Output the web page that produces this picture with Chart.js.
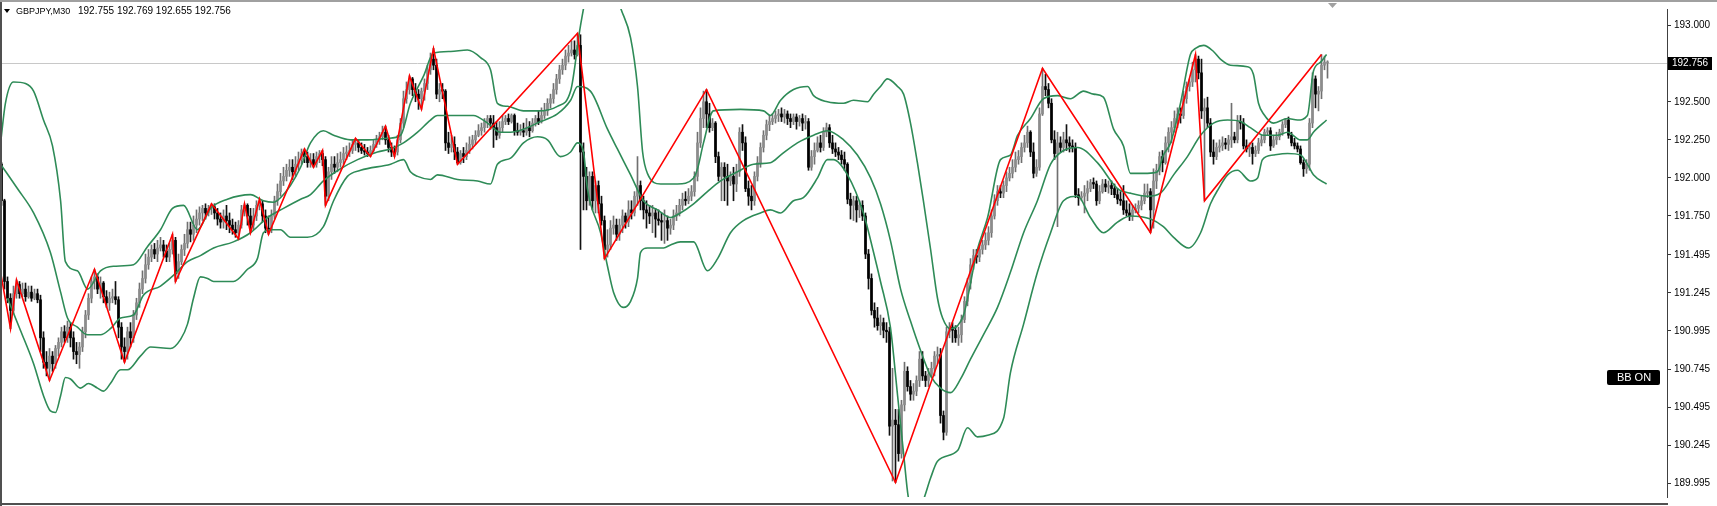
<!DOCTYPE html>
<html>
<head>
<meta charset="utf-8">
<title>GBPJPY,M30</title>
<script src="https://cdn.jsdelivr.net/npm/chart.js@4.4.1/dist/chart.umd.min.js"></script>
<style>
  html, body { margin: 0; padding: 0; background: #fff; overflow: hidden; }
  #wrap { position: relative; width: 1717px; height: 506px; }
</style>
</head>
<body>
<div id="wrap"><canvas id="chart" width="1717" height="506"></canvas></div>
<script>
// ========== DATA ==========
const symbol = 'GBPJPY,M30';
const lastBar = [192.755, 192.769, 192.655, 192.756];
const bidPrice = 192.756;
const bbLabel = 'BB ON';
const yTicks = [193.000, 192.500, 192.250, 192.000, 191.750, 191.495, 191.245, 190.995, 190.745, 190.495, 190.245, 189.995];

// candles, one entry per M30 bar (oldest first)
const opens = [
192.09,191.85,191.32,191.21,191.13,191.24,191.30,191.24,191.27,191.22,
191.25,191.21,191.24,191.20,190.95,190.79,190.75,190.83,190.78,190.88,
190.92,190.99,190.95,191.02,190.95,190.86,190.84,190.89,190.99,191.10,
191.21,191.32,191.35,191.27,191.31,191.22,191.18,191.21,191.22,191.20,
191.02,190.89,190.86,190.99,190.95,191.10,191.18,191.27,191.34,191.43,
191.48,191.53,191.50,191.54,191.56,191.52,191.48,191.53,191.59,191.37,
191.45,191.53,191.57,191.66,191.63,191.69,191.73,191.77,191.80,191.77,
191.80,191.81,191.77,191.73,191.71,191.75,191.72,191.69,191.66,191.64,
191.69,191.79,191.82,191.75,191.69,191.75,191.82,191.83,191.75,191.67,
191.66,191.75,191.85,191.91,191.98,192.01,192.05,192.07,192.04,192.09,
192.12,192.16,192.14,192.10,192.12,192.09,192.14,192.16,192.12,191.88,
192.04,192.09,192.07,192.10,192.12,192.16,192.17,192.18,192.22,192.23,
192.20,192.18,192.17,192.16,192.18,192.22,192.25,192.27,192.30,192.25,
192.20,192.17,192.17,192.25,192.36,192.52,192.58,192.65,192.58,192.55,
192.52,192.57,192.62,192.71,192.78,192.74,192.55,192.58,192.57,192.23,
192.20,192.22,192.17,192.10,192.16,192.14,192.18,192.22,192.25,192.28,
192.31,192.33,192.37,192.39,192.36,192.33,192.28,192.33,192.37,192.39,
192.37,192.41,192.31,192.30,192.31,192.30,192.33,192.31,192.36,192.39,
192.37,192.41,192.44,192.49,192.52,192.58,192.65,192.71,192.74,192.80,
192.82,192.84,192.81,192.87,192.17,192.01,191.85,192.01,191.85,191.95,
191.83,191.72,191.53,191.56,191.67,191.69,191.63,191.69,191.75,191.71,
191.79,191.77,191.88,191.95,191.85,191.79,191.77,191.75,191.77,191.73,
191.72,191.71,191.72,191.67,191.69,191.75,191.77,191.82,191.86,191.85,
191.88,191.91,192.01,192.23,192.39,192.50,192.42,192.33,192.36,192.14,
192.01,192.07,192.01,191.98,192.01,191.96,192.04,192.30,192.23,191.93,
191.88,191.85,192.01,192.10,192.20,192.28,192.35,192.37,192.39,192.41,
192.42,192.40,192.42,192.39,192.37,192.40,192.37,192.39,192.36,192.37,
192.07,192.14,192.18,192.23,192.20,192.30,192.33,192.23,192.19,192.17,
192.15,192.12,192.09,191.86,191.82,191.85,191.79,191.82,191.75,191.50,
191.34,191.13,191.08,191.03,191.05,191.00,190.99,190.37,190.41,190.38,
190.19,190.51,190.73,190.63,190.58,190.60,190.67,190.81,190.70,190.67,
190.71,190.75,190.83,190.84,190.44,190.33,190.99,191.02,191.00,190.95,
190.97,191.07,191.19,191.31,191.43,191.49,191.48,191.53,191.56,191.59,
191.64,191.75,191.85,191.91,191.90,191.95,192.00,192.03,192.07,192.12,
192.14,192.20,192.23,192.30,192.17,192.03,192.07,192.42,192.60,192.58,
192.49,192.25,192.16,192.23,192.20,192.25,192.23,192.21,192.20,191.89,
191.87,191.88,191.90,191.93,191.97,191.96,191.85,191.91,191.96,191.94,
191.95,191.93,191.89,191.86,191.85,191.79,191.77,191.75,191.79,191.80,
191.82,191.85,191.90,191.91,191.79,191.98,192.05,192.14,192.10,192.23,
192.30,192.33,192.39,192.42,192.41,192.52,192.60,192.63,192.71,192.78,
192.69,192.44,192.46,192.36,192.17,192.14,192.20,192.21,192.23,192.22,
192.25,192.27,192.25,192.37,192.36,192.21,192.19,192.20,192.16,192.18,
192.23,192.25,192.30,192.31,192.21,192.25,192.27,192.30,192.35,192.38,
192.28,192.23,192.21,192.19,192.10,192.06,192.09,192.36,192.65,192.55,
192.57,192.74,192.755
];
const highs = [
192.10,191.86,191.35,191.24,191.29,191.33,191.32,191.31,191.31,191.29,
191.29,191.27,191.27,191.23,190.99,190.86,190.88,190.86,190.90,190.95,
191.02,191.03,191.06,191.05,190.99,190.92,190.92,191.02,191.13,191.24,
191.35,191.40,191.37,191.35,191.32,191.26,191.25,191.27,191.32,191.22,
191.05,190.95,191.02,191.05,191.13,191.21,191.31,191.39,191.50,191.53,
191.56,191.57,191.59,191.61,191.59,191.56,191.57,191.63,191.61,191.50,
191.56,191.63,191.71,191.71,191.75,191.79,191.81,191.82,191.83,191.82,
191.83,191.83,191.80,191.77,191.79,191.82,191.77,191.73,191.71,191.72,
191.82,191.83,191.83,191.80,191.80,191.85,191.86,191.85,191.79,191.75,
191.79,191.88,191.96,192.03,192.07,192.09,192.12,192.12,192.14,192.17,
192.19,192.19,192.17,192.16,192.16,192.17,192.18,192.18,192.14,192.07,
192.14,192.14,192.16,192.17,192.20,192.21,192.23,192.25,192.26,192.25,
192.23,192.22,192.20,192.21,192.25,192.28,192.30,192.34,192.34,192.28,
192.23,192.21,192.28,192.39,192.57,192.63,192.67,192.66,192.62,192.58,
192.59,192.65,192.74,192.82,192.85,192.78,192.62,192.62,192.58,192.30,
192.28,192.27,192.20,192.18,192.20,192.23,192.27,192.28,192.31,192.35,
192.36,192.39,192.41,192.41,192.41,192.37,192.37,192.41,192.41,192.42,
192.42,192.42,192.36,192.35,192.36,192.39,192.37,192.39,192.41,192.44,
192.46,192.49,192.52,192.55,192.62,192.68,192.74,192.78,192.84,192.87,
192.90,192.90,192.95,192.94,192.23,192.07,192.04,192.04,191.98,191.98,
191.88,191.75,191.66,191.72,191.75,191.73,191.73,191.79,191.77,191.85,
191.85,191.91,192.14,191.98,191.88,191.85,191.82,191.82,191.80,191.79,
191.77,191.79,191.75,191.73,191.79,191.82,191.86,191.90,191.91,191.93,
191.95,192.04,192.30,192.46,192.57,192.58,192.49,192.39,192.37,192.17,
192.10,192.10,192.09,192.04,192.07,192.09,192.33,192.35,192.27,191.98,
191.95,192.04,192.14,192.23,192.31,192.38,192.41,192.42,192.44,192.45,
192.46,192.45,192.44,192.42,192.42,192.42,192.41,192.42,192.41,192.39,
192.18,192.23,192.27,192.28,192.33,192.36,192.35,192.28,192.23,192.20,
192.18,192.17,192.10,191.90,191.88,191.88,191.85,191.85,191.77,191.53,
191.37,191.18,191.15,191.10,191.08,191.05,191.02,190.75,190.48,190.48,
190.54,190.79,190.76,190.67,190.65,190.70,190.86,190.86,190.73,190.75,
190.79,190.86,190.89,190.88,190.47,191.02,191.05,191.05,191.03,191.02,
191.10,191.22,191.34,191.47,191.53,191.53,191.56,191.59,191.64,191.68,
191.79,191.89,191.95,191.95,191.98,192.04,192.07,192.12,192.17,192.18,
192.23,192.28,192.34,192.31,192.23,192.12,192.46,192.72,192.68,192.62,
192.52,192.31,192.30,192.27,192.30,192.35,192.27,192.25,192.23,191.93,
191.91,191.95,191.98,191.99,192.00,191.98,191.95,191.99,191.99,191.98,
191.98,191.96,191.93,191.91,191.95,191.85,191.83,191.82,191.83,191.85,
191.88,191.96,191.96,191.93,192.06,192.09,192.17,192.18,192.27,192.33,
192.37,192.44,192.46,192.46,192.57,192.63,192.65,192.76,192.81,192.80,
192.78,192.52,192.53,192.39,192.25,192.23,192.25,192.27,192.26,192.28,
192.49,192.30,192.41,192.41,192.39,192.25,192.23,192.23,192.21,192.26,
192.28,192.32,192.33,192.33,192.28,192.30,192.32,192.37,192.39,192.40,
192.30,192.26,192.23,192.21,192.12,192.12,192.39,192.69,192.67,192.60,
192.81,192.80,192.769
];
const lows = [
191.82,191.27,191.18,191.01,191.11,191.21,191.21,191.22,191.19,191.21,
191.19,191.20,191.18,190.86,190.75,190.70,190.67,190.73,190.75,190.83,
190.89,190.92,190.92,190.89,190.81,190.78,190.75,190.86,190.95,191.07,
191.18,191.27,191.24,191.21,191.18,191.15,191.13,191.18,191.17,190.95,
190.81,190.79,190.81,190.89,190.92,191.07,191.15,191.24,191.31,191.40,
191.45,191.47,191.45,191.52,191.48,191.45,191.45,191.50,191.32,191.34,
191.43,191.49,191.54,191.58,191.59,191.64,191.69,191.72,191.73,191.75,
191.76,191.73,191.69,191.67,191.67,191.66,191.64,191.63,191.61,191.60,
191.67,191.75,191.69,191.64,191.66,191.72,191.79,191.71,191.64,191.63,
191.64,191.73,191.82,191.88,191.95,191.98,192.01,191.99,192.01,192.05,
192.09,192.10,192.07,192.07,192.07,192.07,192.10,192.08,191.82,191.85,
191.99,192.03,192.04,192.07,192.09,192.12,192.14,192.16,192.18,192.17,
192.16,192.15,192.14,192.14,192.17,192.20,192.22,192.25,192.22,192.17,
192.14,192.14,192.15,192.23,192.33,192.49,192.55,192.54,192.50,192.45,
192.45,192.51,192.58,192.68,192.71,192.52,192.50,192.52,192.18,192.16,
192.17,192.12,192.09,192.09,192.10,192.12,192.16,192.19,192.22,192.27,
192.28,192.30,192.33,192.32,192.20,192.25,192.26,192.30,192.35,192.35,
192.36,192.28,192.28,192.28,192.27,192.28,192.27,192.30,192.34,192.35,
192.36,192.39,192.41,192.46,192.49,192.55,192.62,192.68,192.71,192.76,
192.80,192.78,192.80,191.53,191.79,191.79,191.82,191.79,191.77,191.77,
191.69,191.47,191.48,191.53,191.63,191.59,191.59,191.64,191.67,191.68,
191.73,191.75,191.82,191.79,191.73,191.67,191.70,191.64,191.61,191.69,
191.59,191.57,191.59,191.63,191.66,191.72,191.75,191.79,191.82,191.83,
191.85,191.88,191.98,192.20,192.33,192.33,192.30,192.31,192.10,191.98,
191.85,191.85,191.82,191.95,191.85,191.91,192.01,192.18,191.91,191.82,
191.79,191.82,191.98,192.07,192.17,192.25,192.31,192.35,192.36,192.37,
192.37,192.36,192.35,192.33,192.35,192.32,192.34,192.31,192.32,192.05,
192.05,192.09,192.17,192.17,192.18,192.27,192.20,192.16,192.14,192.12,
192.09,192.05,191.83,191.73,191.72,191.71,191.74,191.72,191.47,191.27,
191.10,191.02,191.00,190.97,190.95,190.92,190.31,190.01,190.00,190.14,
190.16,190.47,190.60,190.54,190.54,190.57,190.63,190.67,190.63,190.63,
190.69,190.70,190.78,190.39,190.28,190.31,190.95,190.92,190.92,190.90,
190.92,191.05,191.16,191.27,191.40,191.44,191.45,191.50,191.53,191.56,
191.61,191.73,191.82,191.87,191.87,191.91,191.98,192.00,192.04,192.09,
192.10,192.17,192.20,192.14,192.00,192.01,192.05,192.41,192.54,192.46,
192.23,192.12,191.68,192.17,192.17,192.18,192.17,192.17,191.87,191.82,
191.85,191.77,191.85,191.91,191.93,191.82,191.83,191.90,191.91,191.90,
191.89,191.87,191.83,191.82,191.76,191.75,191.72,191.72,191.77,191.77,
191.79,191.83,191.87,191.64,191.67,191.93,192.02,192.04,192.09,192.17,
192.23,192.30,192.33,192.36,192.39,192.49,192.57,192.60,192.63,192.65,
192.39,191.85,192.33,192.14,192.09,192.12,192.17,192.18,192.19,192.18,
192.20,192.23,192.23,192.32,192.19,192.17,192.14,192.09,192.14,192.16,
192.21,192.23,192.28,192.18,192.20,192.22,192.25,192.28,192.33,192.26,
192.21,192.19,192.17,192.09,192.01,192.03,192.05,192.33,192.46,192.44,
192.52,192.71,192.655
];
const closes = [
191.85,191.32,191.21,191.13,191.24,191.30,191.24,191.27,191.22,191.25,
191.21,191.24,191.20,190.95,190.79,190.75,190.83,190.78,190.88,190.92,
190.99,190.95,191.02,190.95,190.86,190.84,190.89,190.99,191.10,191.21,
191.32,191.35,191.27,191.31,191.22,191.18,191.21,191.22,191.20,191.02,
190.89,190.86,190.99,190.95,191.10,191.18,191.27,191.34,191.43,191.48,
191.53,191.50,191.54,191.56,191.52,191.48,191.53,191.59,191.37,191.45,
191.53,191.57,191.66,191.63,191.69,191.73,191.77,191.80,191.77,191.80,
191.81,191.77,191.73,191.71,191.75,191.72,191.69,191.66,191.64,191.69,
191.79,191.82,191.75,191.69,191.75,191.82,191.83,191.75,191.67,191.66,
191.75,191.85,191.91,191.98,192.01,192.05,192.07,192.04,192.09,192.12,
192.16,192.14,192.10,192.12,192.09,192.14,192.16,192.12,191.88,192.04,
192.09,192.07,192.10,192.12,192.16,192.17,192.18,192.22,192.23,192.20,
192.18,192.17,192.16,192.18,192.22,192.25,192.27,192.30,192.25,192.20,
192.17,192.16,192.25,192.36,192.52,192.58,192.65,192.58,192.55,192.52,
192.57,192.62,192.71,192.78,192.74,192.55,192.58,192.57,192.23,192.20,
192.22,192.17,192.10,192.16,192.14,192.18,192.22,192.25,192.28,192.31,
192.33,192.37,192.39,192.36,192.33,192.28,192.33,192.37,192.39,192.37,
192.41,192.31,192.30,192.31,192.30,192.33,192.31,192.36,192.39,192.37,
192.41,192.44,192.49,192.52,192.58,192.65,192.71,192.74,192.80,192.82,
192.84,192.81,192.87,192.17,192.01,191.85,192.01,191.85,191.95,191.83,
191.72,191.53,191.56,191.67,191.69,191.63,191.69,191.75,191.71,191.79,
191.77,191.88,191.95,191.85,191.79,191.77,191.75,191.77,191.73,191.72,
191.71,191.72,191.67,191.69,191.75,191.77,191.82,191.86,191.85,191.88,
191.91,192.01,192.23,192.39,192.50,192.42,192.33,192.36,192.14,192.01,
192.07,192.01,191.98,192.01,191.96,192.04,192.30,192.23,191.93,191.88,
191.85,192.01,192.10,192.20,192.28,192.35,192.37,192.39,192.41,192.42,
192.40,192.42,192.39,192.37,192.40,192.37,192.39,192.36,192.37,192.07,
192.14,192.18,192.23,192.20,192.30,192.33,192.23,192.19,192.17,192.15,
192.12,192.09,191.86,191.82,191.85,191.79,191.82,191.75,191.50,191.34,
191.13,191.08,191.03,191.05,191.00,190.99,190.37,190.41,190.38,190.19,
190.51,190.73,190.63,190.58,190.60,190.67,190.81,190.70,190.67,190.71,
190.75,190.83,190.84,190.44,190.33,190.99,191.02,191.00,190.95,190.97,
191.07,191.19,191.31,191.43,191.49,191.48,191.53,191.56,191.59,191.64,
191.75,191.85,191.91,191.90,191.95,192.00,192.03,192.07,192.12,192.14,
192.20,192.23,192.30,192.17,192.03,192.07,192.42,192.60,192.58,192.49,
192.25,192.16,192.23,192.20,192.25,192.23,192.21,192.20,191.89,191.87,
191.88,191.90,191.93,191.97,191.96,191.85,191.91,191.96,191.94,191.95,
191.93,191.89,191.86,191.85,191.79,191.77,191.75,191.79,191.80,191.82,
191.85,191.90,191.91,191.79,191.98,192.05,192.14,192.10,192.23,192.30,
192.33,192.39,192.42,192.41,192.52,192.60,192.63,192.71,192.78,192.69,
192.44,192.46,192.36,192.17,192.14,192.20,192.21,192.23,192.22,192.25,
192.27,192.25,192.37,192.36,192.21,192.19,192.20,192.16,192.18,192.23,
192.25,192.30,192.31,192.21,192.25,192.27,192.30,192.35,192.38,192.28,
192.23,192.21,192.19,192.10,192.06,192.09,192.36,192.65,192.55,192.57,
192.74,192.76,192.756
];

// Bollinger bands at bar positions
const upperIdx = [-0.3,1.3,4,8,10.7,14,17,19.7,21.3,25.3,28.7,33,37.3,44,48.7,53,57,60.7,65.3,69.7,75.3,83,87.3,90.7,93,96.3,99.7,103,107.3,110.7,116.3,122,128.7,133,136.3,140.7,144,149.7,155.3,159.7,163,165.3,168.7,174,178.7,185.3,189.7,193,196.3,201.3,206.3,209.7,212,213.7,215.3,219.7,225.3,230.7,232,234,237.3,246.3,254,256.3,259.7,264,268.7,270.7,275.3,280.7,284,288.7,290.7,293,295.3,298.7,300.7,303,305.3,307.3,309.7,312,313.7,316.3,318.7,320.7,325.3,328.7,333,336.3,338.7,343,347.3,352,356.3,360.7,364,367.3,370.7,374,376.3,382,385.3,387.3,389.7,393,396.3,398,400.7,404,406.3,409.7,415.3,417.3,419,420.7,424,428.7,432,435.3,437.3,439.7,441.7];
const upperBand = [192.23,192.49,192.63,192.62,192.57,192.38,192.21,191.85,191.45,191.39,191.27,191.39,191.42,191.43,191.55,191.66,191.80,191.82,191.66,191.80,191.86,191.89,191.85,191.84,191.87,191.95,192.07,192.23,192.31,192.28,192.25,192.25,192.26,192.28,192.49,192.67,192.82,192.83,192.84,192.79,192.71,192.49,192.47,192.44,192.44,192.47,192.57,193.00,193.32,193.45,193.12,192.92,192.60,192.17,192.03,191.96,191.96,192.00,192.06,192.23,192.44,192.45,192.44,192.41,192.51,192.58,192.60,192.54,192.50,192.49,192.51,192.50,192.55,192.60,192.65,192.60,192.55,192.36,192.10,191.85,191.53,191.21,191.08,191.01,191.03,191.10,191.53,191.74,192.12,192.15,192.28,192.39,192.52,192.54,192.52,192.57,192.55,192.53,192.32,192.21,192.03,192.03,192.04,192.15,192.23,192.49,192.81,192.85,192.87,192.83,192.78,192.74,192.73,192.68,192.49,192.42,192.36,192.39,192.38,192.41,192.70,192.76,192.81];
const midIdx = [-0.3,5.3,10.7,16.3,19.7,22,25.3,28.7,33,36.3,39.7,44,47.3,53,57.3,62,66.3,70.7,77.3,83,88.7,94,99.7,103,107.3,113,118.7,125.3,129.7,134,138.7,143,145.3,152,157.3,162,166.3,169.7,174,179.7,185.3,189.7,192,196.3,202,205.3,209.7,214,218.7,223,226.3,230.7,235.3,239.7,245.3,250.7,256.3,259.7,265.3,270.7,275.3,280.7,285.3,289.7,293,296.3,299.7,303,306.3,309.7,313,316.3,319.7,323,327.3,332,336.3,340.7,345.3,349.7,354,358.7,365.3,372,376.3,382,386.3,390.7,395.3,399.7,404,408.7,413,416.3,420.7,425.3,428.7,433,435.3,437.3,441.7];
const midBand = [192.09,191.93,191.77,191.51,191.25,191.08,191.02,190.97,190.97,191.01,191.08,191.10,191.23,191.29,191.36,191.45,191.49,191.54,191.58,191.64,191.74,191.80,191.86,191.89,191.98,192.06,192.12,192.17,192.19,192.23,192.30,192.38,192.41,192.41,192.41,192.36,192.30,192.30,192.32,192.37,192.42,192.51,192.60,192.57,192.32,192.19,192.02,191.85,191.79,191.74,191.77,191.83,191.91,191.98,192.04,192.09,192.10,192.15,192.23,192.28,192.31,192.25,192.15,192.00,191.83,191.59,191.27,191.06,190.87,190.70,190.62,190.59,190.68,190.81,190.97,191.15,191.38,191.64,191.85,192.09,192.18,192.20,192.10,191.93,191.90,191.88,191.90,192.02,192.14,192.28,192.36,192.38,192.37,192.33,192.28,192.28,192.30,192.25,192.25,192.30,192.38];
const lowerIdx = [2,6.3,10.7,14,16.3,18,19.7,21.3,23,26.3,29,32,34,36.3,39.7,42,46.3,49.7,56.3,59.7,62,64,66.3,68.7,70.7,77.3,82,85.3,87.3,89.7,93,96.3,102,107.3,110.7,115.3,119.7,129.7,134,136.3,138.7,143,145.3,152,158.7,163,165.3,169.7,174,178.7,182,186.3,189.7,192,194,195.3,199.7,202,204,207.3,209.7,212,213,215.3,220.7,223,226.3,230.7,235.3,238.7,243,247.3,253,256.3,259.7,264,267.3,272,275.3,277.3,282,287.3,290.7,293,296.3,298.7,300.7,302.3,304.7,307,309.7,312,318.7,322,325.3,328.7,334,336.3,340.7,345.3,349.7,354,358.7,363,367.3,372,376.3,383,387.3,390.7,395.7,399.7,403,405.7,408.7,412,416.3,418.7,420.3,424,428.7,433,435.3,437.3,441.7];
const lowerBand = [191.21,191.00,190.78,190.57,190.47,190.46,190.57,190.69,190.68,190.62,190.65,190.62,190.60,190.65,190.74,190.74,190.83,190.89,190.88,190.94,191.04,191.21,191.35,191.34,191.32,191.32,191.40,191.47,191.64,191.66,191.66,191.61,191.61,191.68,191.85,192.01,192.05,192.09,192.12,192.04,192.01,191.99,192.02,191.99,191.98,191.96,192.09,192.13,192.23,192.27,192.25,192.14,192.17,192.23,192.17,191.93,191.64,191.42,191.25,191.15,191.19,191.34,191.51,191.54,191.54,191.56,191.58,191.58,191.39,191.47,191.64,191.72,191.77,191.79,191.77,191.85,191.87,192.00,192.12,192.12,192.02,191.77,191.51,191.32,191.02,190.57,190.19,189.90,189.80,189.87,190.03,190.14,190.21,190.36,190.30,190.31,190.42,190.72,191.04,191.38,191.64,191.85,191.88,191.74,191.64,191.71,191.75,191.73,191.68,191.61,191.54,191.64,191.83,191.93,192.02,192.05,191.98,192.00,192.12,192.15,192.16,192.15,192.09,192.02,191.96];

// ZigZag turning points (bar index, price)
const zigIdx = [-0.3,3,5,16,31,41,57,58,70,79,81,83,86,89,101,104,107,108,118,123,128,131,136,140,144,152,192,201,235,298,347,383,398,401,440];
const zigPrice = [191.38,191.01,191.33,190.67,191.40,190.79,191.63,191.32,191.83,191.60,191.83,191.64,191.86,191.63,192.19,192.07,192.18,191.82,192.26,192.14,192.34,192.14,192.67,192.45,192.85,192.09,192.95,191.47,192.58,190.00,192.72,191.64,192.81,191.85,192.81];

// ========== BUILD DATASETS ==========
const bullBody = '#8c8c8c';
const bearBody = '#000000';
const bandColor = '#2e8b57';

const wickData = highs.map((h, i) => ({ x: i, y: [lows[i], h] }));
const bodyData = opens.map((o, i) => ({ x: i, y: [o, closes[i]] }));
const wickColors = opens.map((o, i) => closes[i] >= o ? '#707070' : '#111111');
const bodyColors = opens.map((o, i) => closes[i] >= o ? bullBody : bearBody);

function toPoints(xs, ys) {
    return xs.map((x, k) => ({ x: x, y: ys[k] }));
}

function bandDataset(xs, ys) {
    return {
        type: 'line',
        data: toPoints(xs, ys),
        borderColor: bandColor,
        borderWidth: 1.6,
        pointRadius: 0,
        cubicInterpolationMode: 'monotone',
        order: 1
    };
}

// ========== PLUGINS ==========
const bidLine = {
    id: 'bidLine',
    beforeDatasetsDraw(chart) {
        const { ctx, chartArea } = chart;
        const y = Math.round(chart.scales.y.getPixelForValue(bidPrice)) + 0.5;
        ctx.save();
        ctx.strokeStyle = '#c8c8c8';
        ctx.lineWidth = 1;
        ctx.beginPath();
        ctx.moveTo(chartArea.left, y);
        ctx.lineTo(chartArea.right, y);
        ctx.stroke();
        ctx.restore();
    }
};

const terminalFrame = {
    id: 'terminalFrame',
    afterDraw(chart) {
        const { ctx, chartArea } = chart;
        const W = chart.width;
        ctx.save();

        // window frame
        ctx.fillStyle = '#a0a0a0';
        ctx.fillRect(0, 0, W, 2);
        ctx.fillStyle = '#505050';
        ctx.fillRect(0, 2, 2, chart.height - 2);
        ctx.fillRect(0, 503, chartArea.right + 1, 2);

        // chart shift marker
        ctx.fillStyle = '#a0a0a0';
        ctx.beginPath();
        ctx.moveTo(1328, 3);
        ctx.lineTo(1337, 3);
        ctx.lineTo(1332.5, 8);
        ctx.closePath();
        ctx.fill();

        // header
        ctx.fillStyle = '#000';
        ctx.beginPath();
        ctx.moveTo(4, 9);
        ctx.lineTo(10, 9);
        ctx.lineTo(7, 13);
        ctx.closePath();
        ctx.fill();
        ctx.textBaseline = 'middle';
        ctx.textAlign = 'left';
        ctx.font = '9px "Liberation Sans"';
        ctx.fillText(symbol, 16, 11.5);
        ctx.font = '10px "Liberation Sans"';
        ctx.fillText(lastBar.map(v => v.toFixed(3)).join(' '), 78, 11.5);

        // bid price label
        const py = Math.round(chart.scales.y.getPixelForValue(bidPrice));
        ctx.fillStyle = '#000';
        ctx.fillRect(chartArea.right + 1, py - 6, 44, 13);
        ctx.fillStyle = '#fff';
        ctx.font = '10px "Liberation Sans"';
        ctx.fillText(bidPrice.toFixed(3), chartArea.right + 5, py + 0.5);

        // BB ON label
        ctx.fillStyle = '#000';
        ctx.beginPath();
        ctx.roundRect(1607, 370, 53, 15, 2);
        ctx.fill();
        ctx.fillStyle = '#fff';
        ctx.font = '11px "Liberation Sans"';
        ctx.textAlign = 'center';
        ctx.fillText(bbLabel, 1634, 378);

        ctx.restore();
    }
};

// ========== CHART ==========
const xMin = -1 / 6;
const xMax = xMin + 1666 / 3;

new Chart(document.getElementById('chart').getContext('2d'), {
    type: 'bar',
    data: {
        datasets: [
            {
                type: 'line',
                data: toPoints(zigIdx, zigPrice),
                borderColor: '#ff0000',
                borderWidth: 1.6,
                pointRadius: 0,
                tension: 0,
                order: 0
            },
            bandDataset(upperIdx, upperBand),
            bandDataset(midIdx, midBand),
            bandDataset(lowerIdx, lowerBand),
            {
                data: bodyData,
                backgroundColor: bodyColors,
                barThickness: 2,
                minBarLength: 1,
                grouped: false,
                order: 2
            },
            {
                data: wickData,
                backgroundColor: wickColors,
                barThickness: 1,
                minBarLength: 1,
                grouped: false,
                order: 3
            }
        ]
    },
    options: {
        responsive: false,
        animation: false,
        devicePixelRatio: 1,
        layout: { padding: { left: 1, top: 3, right: 0, bottom: 2 } },
        plugins: {
            legend: { display: false },
            tooltip: { enabled: false },
            title: { display: false }
        },
        scales: {
            x: {
                type: 'linear',
                min: xMin,
                max: xMax,
                offset: false,
                display: false
            },
            y: {
                position: 'right',
                min: 189.905,
                max: 193.109,
                afterBuildTicks: scale => { scale.ticks = yTicks.map(v => ({ value: v })); },
                afterFit: scale => { scale.width = 50; },
                ticks: {
                    autoSkip: false,
                    padding: 3,
                    color: '#000',
                    font: { family: 'Liberation Sans', size: 10 },
                    callback: v => v.toFixed(3)
                },
                grid: { drawOnChartArea: false, drawTicks: true, tickLength: 4, color: '#333' },
                border: { display: true, color: '#404040', width: 1 }
            }
        }
    },
    plugins: [bidLine, terminalFrame]
});
</script>
</body>
</html>
